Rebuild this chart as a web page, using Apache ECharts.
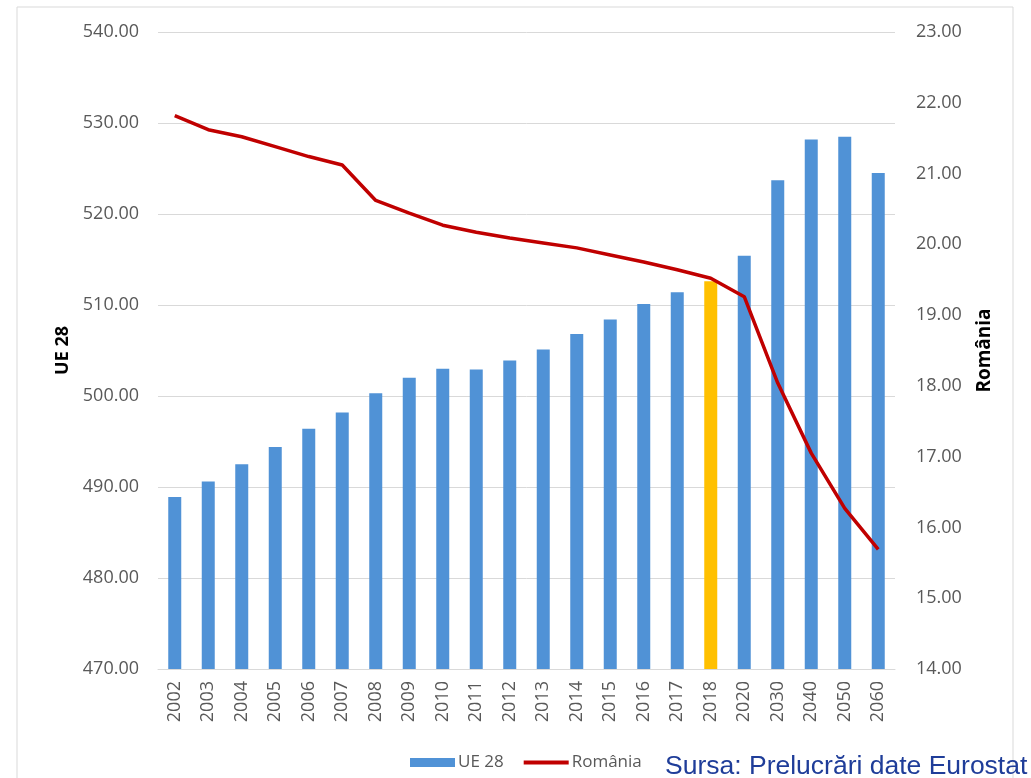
<!DOCTYPE html>
<html>
<head>
<meta charset="utf-8">
<script src="https://cdn.jsdelivr.net/npm/echarts@6/dist/echarts.min.js"></script>
<style>html,body{margin:0;padding:0;background:#fff}#c{width:1031px;height:778px}</style>
</head>
<body>
<div id="c"></div>
<script>
const categories = ['2002','2003','2004','2005','2006','2007','2008','2009','2010','2011','2012','2013','2014','2015','2016','2017','2018','2020','2030','2040','2050','2060'];
const ue28 = [488.9,490.6,492.5,494.4,496.4,498.2,500.3,502.0,503.0,502.9,503.9,505.1,506.8,508.4,510.1,511.4,512.6,515.4,523.7,528.2,528.5,524.5];
const romania = [21.82,21.62,21.52,21.38,21.24,21.12,20.62,20.44,20.27,20.17,20.09,20.02,19.95,19.85,19.75,19.64,19.52,19.26,18.04,17.05,16.27,15.69];
const highlightYear = '2018';
const seriesNames = ['UE 28','România'];
const sourceText = 'Sursa: Prelucrări date Eurostat';

const chart = echarts.init(document.getElementById('c'));
const font = 'Open Sans';
chart.setOption({
  backgroundColor:'#fff',
  animation:false,
  grid:{left:158,right:136,top:32,bottom:109},
  legend:{
    data:[{name:seriesNames[0],icon:'rect'},{name:seriesNames[1],icon:'path://M0,0 L45,0 L45,4 L0,4 Z'}],
    left:405, top:749, itemWidth:45, itemHeight:9, itemGap:20,
    textStyle:{color:'#595959',fontSize:17,fontFamily:font,padding:[0,0,0,-2]}
  },
  xAxis:{
    type:'category', data:categories,
    axisLine:{lineStyle:{color:'#d9d9d9'}},
    axisTick:{show:false},
    axisLabel:{rotate:90,color:'#595959',fontSize:18,fontFamily:font,margin:12,interval:0}
  },
  yAxis:[
    {type:'value',min:470,max:540,interval:10,
     name:'UE 28',nameLocation:'middle',nameRotate:90,nameGap:86,
     nameTextStyle:{fontWeight:'bold',fontSize:18,color:'#000',fontFamily:font},
     axisLabel:{formatter:v=>v.toFixed(2),color:'#595959',fontSize:18,fontFamily:font,margin:19},
     splitLine:{lineStyle:{color:'#d9d9d9'}},axisLine:{show:false},axisTick:{show:false}},
    {type:'value',min:14,max:23,interval:1,
     name:'România',nameLocation:'middle',nameRotate:90,nameGap:80,
     nameTextStyle:{fontWeight:'bold',fontSize:19,color:'#000',fontFamily:font},
     axisLabel:{formatter:v=>v.toFixed(2),color:'#595959',fontSize:18,fontFamily:font,margin:21},
     splitLine:{show:false},axisLine:{show:false},axisTick:{show:false}}
  ],
  series:[
    {name:seriesNames[0],type:'bar',yAxisIndex:0,barWidth:13,
     itemStyle:{color:'#5092d6'},
     data:ue28.map((v,i)=>categories[i]===highlightYear?{value:v,itemStyle:{color:'#ffc000'}}:v)},
    {name:seriesNames[1],type:'line',yAxisIndex:1,symbol:'none',
     lineStyle:{color:'#c00000',width:3.5},itemStyle:{color:'#c00000'},
     data:romania}
  ],
  graphic:[
    {type:'rect',shape:{x:17,y:7,width:996,height:820},style:{fill:'none',stroke:'#d9d9d9',lineWidth:1},silent:true,z:-1},
    {type:'text',x:665,y:767,style:{text:sourceText,fill:'#1f3d99',verticalAlign:'middle',font:'26.5px "Liberation Sans", Arial'}}
  ]
});
</script>
</body>
</html>
